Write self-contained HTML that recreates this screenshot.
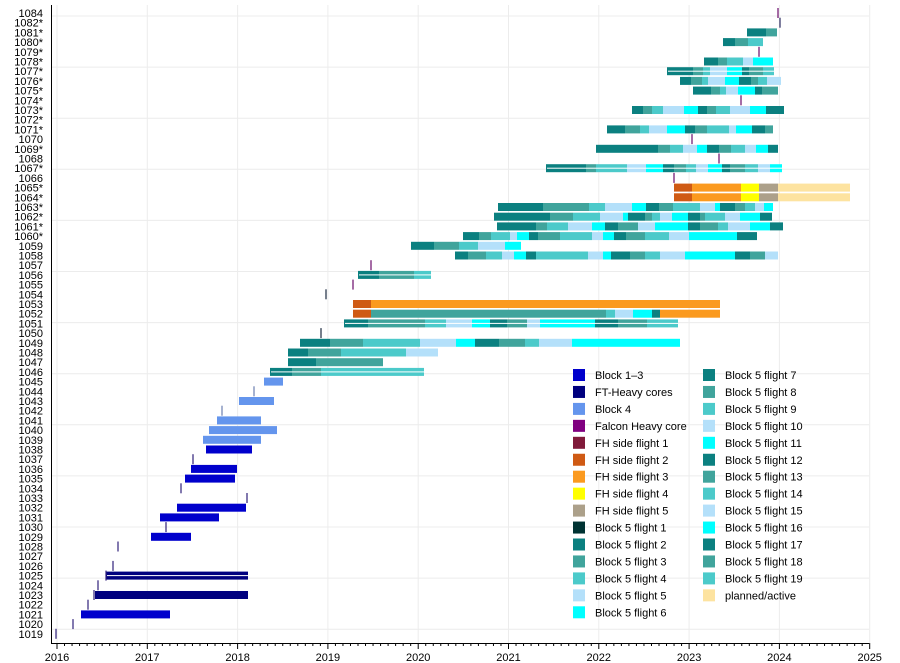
<!DOCTYPE html><html><head><meta charset="utf-8"><style>
body{margin:0;background:#fff}
svg{display:block;font-family:"Liberation Sans",sans-serif}
</style></head><body>
<svg id="s" width="900" height="663" viewBox="0 0 900 663" xmlns="http://www.w3.org/2000/svg"></svg>
<script>
const S=document.getElementById('s');let h='';
const C={b13:'#0000cc',ft:'#00007f',b4:'#6495ed',fhc:'#800080',s1:'#801a3a',s2:'#cf5a14',s3:'#fb9a1f',s4:'#ffff00',s5:'#aca08a',f1:'#003333',d:'#0b8080',m:'#40a49c',l:'#4ccaca',p:'#b4e0fa',c:'#00ffff',pl:'#fde3a0'};
const X=t=>57+90.3*(t-2016);
// grid
for(let y=0;y<=2025-2016;y++){const x=X(2016+y);h+=`<line x1="${x}" y1="5" x2="${x}" y2="643" stroke="#ececec" stroke-width="1"/>`;}
for(let k=0;k<=12;k++){const y=16+51.1*k;h+=`<line x1="51" y1="${y}" x2="869" y2="${y}" stroke="#ececec"/>`;}
function idx(n){return n>=1083?0:1083-n}
function yc(n){return 13+idx(n)*9.7}
const R=[
[1081,0,[[747,766,'d'],[766,777,'m']]],
[1080,0,[[723,735,'d'],[735,748,'m'],[748,763,'l']]],
[1078,0,[[704,718,'d'],[718,727,'m'],[727,743,'l'],[743,753,'p'],[753,773,'c']]],
[1077,1,[[667,693,'d'],[693,703,'m'],[703,710,'l'],[710,727,'p'],[727,742,'c'],[742,749,'d'],[749,763,'m'],[763,774,'l']]],
[1076,0,[[680,691,'d'],[691,702,'m'],[702,708,'l'],[708,725,'p'],[725,739,'c'],[739,751,'d'],[751,758,'m'],[758,767,'l'],[767,781,'p']]],
[1075,0,[[693,711,'d'],[711,720,'m'],[720,726,'l'],[726,738,'p'],[738,755,'c'],[755,762,'d'],[762,778,'m']]],
[1073,0,[[632,643,'d'],[643,652,'m'],[652,663,'l'],[663,684,'p'],[684,698,'c'],[698,707,'d'],[707,716,'m'],[716,730,'l'],[730,750,'p'],[750,766,'c'],[766,784,'d']]],
[1071,0,[[607,625,'d'],[625,640,'m'],[640,649,'l'],[649,667,'p'],[667,685,'c'],[685,695,'d'],[695,707,'m'],[707,729,'l'],[729,736,'p'],[736,752,'c'],[752,765,'d'],[765,773,'m']]],
[1069,0,[[596,658,'d'],[658,670,'m'],[670,683,'l'],[683,697,'p'],[697,707,'c'],[707,719,'d'],[719,731,'m'],[731,745,'l'],[745,756,'p'],[756,768,'c'],[768,778,'d']]],
[1067,1,[[546,586,'d'],[586,596,'m'],[596,627,'l'],[627,646,'p'],[646,663,'c'],[663,674,'d'],[674,686,'m'],[686,696,'l'],[696,708,'p'],[708,722,'c'],[722,730,'d'],[730,745,'m'],[745,758,'l'],[758,770,'p'],[770,782,'c']]],
[1065,0,[[674,692,'s2'],[692,741,'s3'],[741,759,'s4'],[759,778,'s5'],[778,850,'pl']]],
[1064,0,[[674,692,'s2'],[692,741,'s3'],[741,759,'s4'],[759,778,'s5'],[778,850,'pl']]],
[1063,0,[[498,543,'d'],[543,589,'m'],[589,605,'l'],[605,632,'p'],[632,646,'c'],[646,659,'d'],[659,673,'m'],[673,700,'l'],[700,715,'p'],[715,720,'c'],[720,735,'d'],[735,745,'m'],[745,755,'l'],[755,764,'p'],[764,773,'c']]],
[1062,0,[[494,550,'d'],[550,573,'m'],[573,600,'l'],[600,623,'p'],[623,628,'c'],[628,645,'d'],[645,652,'m'],[652,660,'l'],[660,672,'p'],[672,688,'c'],[688,700,'d'],[700,705,'m'],[705,725,'l'],[725,740,'p'],[740,760,'c'],[760,772,'d']]],
[1061,0,[[497,536,'d'],[536,547,'m'],[547,568,'l'],[568,592,'p'],[592,605,'c'],[605,618,'d'],[618,638,'m'],[638,655,'p'],[655,688,'c'],[688,700,'d'],[700,718,'m'],[718,728,'l'],[728,750,'p'],[750,770,'c'],[770,783,'d']]],
[1060,0,[[463,479,'d'],[479,491,'m'],[491,510,'l'],[510,517,'p'],[517,529,'c'],[529,538,'d'],[538,560,'m'],[560,592,'l'],[592,603,'p'],[603,614,'c'],[614,626,'d'],[626,645,'m'],[645,669,'l'],[669,689,'p'],[689,737,'c'],[737,757,'d']]],
[1059,0,[[411,434,'d'],[434,459,'m'],[459,478,'l'],[478,505,'p'],[505,521,'c']]],
[1058,0,[[455,468,'d'],[468,486,'m'],[486,502,'l'],[502,514,'p'],[514,526,'c'],[526,536,'d'],[536,588,'l'],[588,603,'p'],[603,611,'c'],[611,630,'d'],[630,645,'m'],[645,660,'l'],[660,685,'p'],[685,735,'c'],[735,750,'d'],[750,765,'m'],[765,778,'p']]],
[1056,1,[[358,379,'d'],[379,414,'m'],[414,431,'l']]],
[1053,0,[[353,371,'s2'],[371,720,'s3']]],
[1052,0,[[353,371,'s2'],[371,606,'m'],[606,615,'l'],[615,633,'p'],[633,652,'c'],[652,660,'d'],[660,720,'s3']]],
[1051,1,[[344,368,'d'],[368,425,'m'],[425,446,'l'],[446,472,'p'],[472,490,'c'],[490,507,'d'],[507,527,'m'],[527,540,'p'],[540,595,'c'],[595,618,'d'],[618,647,'m'],[647,678,'l']]],
[1049,0,[[300,330,'d'],[330,363,'m'],[363,420,'l'],[420,456,'p'],[456,475,'c'],[475,499,'d'],[499,525,'m'],[525,539,'l'],[539,572,'p'],[572,680,'c']]],
[1048,0,[[288,308,'d'],[308,341,'m'],[341,406,'l'],[406,438,'p']]],
[1047,0,[[288,316,'d'],[316,383,'m']]],
[1046,1,[[270,292,'d'],[292,321,'m'],[321,424,'l']]],
[1045,0,[[264,283,'b4']]],
[1043,0,[[239,274,'b4']]],
[1041,0,[[217,261,'b4']]],
[1040,0,[[209,277,'b4']]],
[1039,0,[[203,261,'b4']]],
[1038,0,[[206,252,'b13']]],
[1036,0,[[191,237,'b13']]],
[1035,0,[[185,235,'b13']]],
[1032,0,[[177,246,'b13']]],
[1031,0,[[160,219,'b13']]],
[1029,0,[[151,191,'b13']]],
[1025,1,[[106,248,'ft']]],
[1023,0,[[95,248,'ft']]],
[1021,0,[[81,170,'b13']]],
];
for(const [n,dbl,segs] of R){const y=yc(n)-4;for(const [a,b,k] of segs){h+=`<rect x="${a}" y="${y}" width="${b-a}" height="8" fill="${C[k]}"/>`;}
 if(dbl){const a=segs[0][0],b=segs[segs.length-1][1];h+=`<rect x="${a+1}" y="${y+3.5}" width="${b-a-1}" height="1" fill="#fff"/>`;}}
const T=[[1084,778,'#6a0a6a'],[1082,780,'#2a2a60'],[1079,759,'#6a0a6a'],[1074,741,'#6a0a6a'],[1070,692,'#6a0a6a'],[1068,719,'#6a0a6a'],[1066,674,'#6a0a6a'],[1057,371,'#6a0a6a'],[1055,353,'#6a0a6a'],[1054,326,'#1a2a40'],[1050,321,'#1a2a40'],[1044,254,'#6b7fb0'],[1042,222,'#6b7fb0'],[1037,193,'#30207a'],[1034,181,'#30207a'],[1033,247,'#30207a'],[1030,166,'#30207a'],[1028,118,'#30207a'],[1026,113,'#30207a'],[1025,106,'#30207a'],[1024,98,'#30207a'],[1023,94,'#30207a'],[1022,88,'#30207a'],[1020,73,'#30207a'],[1019,56,'#30207a']];
for(const [n,x,c] of T){const y=yc(n);h+=`<line x1="${x}" y1="${y-5}" x2="${x}" y2="${y+5}" stroke="${c}" stroke-width="1.2"/>`;}
// labels
const L=['1084'];for(let n=1082;n>=1019;n--){L.push(n+((n>=1060&&n<=1082&&![1084,1070,1068,1066].includes(n))?'*':''));}
L.forEach((t,i)=>{h+=`<text x="43" y="${13+i*9.7+4}" font-size="11" text-anchor="end" fill="#000">${t}</text>`;});
// axes
h+=`<line x1="51.5" y1="5" x2="51.5" y2="643" stroke="#000"/><line x1="51" y1="643.5" x2="869" y2="643.5" stroke="#000"/>`;
for(let m=0;m<=108;m++){const x=X(2016+m/12);const big=m%12==0;h+=`<line x1="${x}" y1="643" x2="${x}" y2="${big?649:646}" stroke="#000"/>`;if(big)h+=`<text x="${x}" y="661" font-size="11" text-anchor="middle">${2016+m/12}</text>`;}
// legend
const LG=[['b13','Block 1–3'],['ft','FT-Heavy cores'],['b4','Block 4'],['fhc','Falcon Heavy core'],['s1','FH side flight 1'],['s2','FH side flight 2'],['s3','FH side flight 3'],['s4','FH side flight 4'],['s5','FH side flight 5'],['f1','Block 5 flight 1'],['d','Block 5 flight 2'],['m','Block 5 flight 3'],['l','Block 5 flight 4'],['p','Block 5 flight 5'],['c','Block 5 flight 6'],
['d','Block 5 flight 7'],['m','Block 5 flight 8'],['l','Block 5 flight 9'],['p','Block 5 flight 10'],['c','Block 5 flight 11'],['d','Block 5 flight 12'],['m','Block 5 flight 13'],['l','Block 5 flight 14'],['p','Block 5 flight 15'],['c','Block 5 flight 16'],['d','Block 5 flight 17'],['m','Block 5 flight 18'],['l','Block 5 flight 19'],['pl','planned/active']];
LG.forEach(([k,t],i)=>{const col=i<15?0:1,r=i<15?i:i-15;const x=col?703:573,y=369+r*16.95;h+=`<rect x="${x}" y="${y}" width="12" height="12" fill="${C[k]}"/><text x="${x+22}" y="${y+10}" font-size="11">${t}</text>`;});
S.innerHTML=h;
</script></body></html>
